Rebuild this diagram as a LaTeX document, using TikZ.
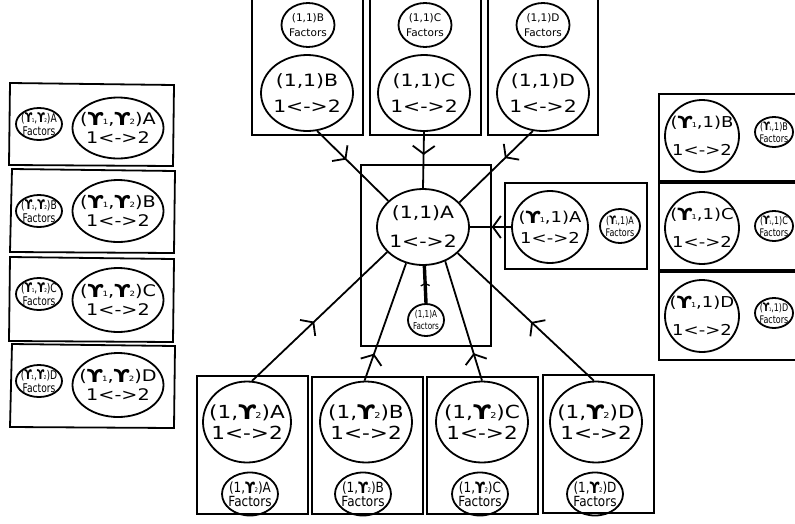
\documentclass[tikz,border=0pt]{standalone}
\usepackage{fontspec}
\usepackage{graphicx}
\usetikzlibrary{shapes.geometric,arrows.meta,decorations.markings}
\newfontfamily\dvW{DejaVu Sans}[FakeStretch=1.2]
\newfontfamily\dvN{DejaVu Sans}
\newfontfamily\dvC{DejaVu Sans}[FakeStretch=0.76]
\newfontfamily\dvM{DejaVu Sans}[FakeStretch=0.86]
\newcommand\gm[1]{\raisebox{-0.05em}{\scalebox{1.12}{\bfseries ϒ}}\kern-0.05em\scalebox{0.45}{#1}}
\begin{document}
\begin{tikzpicture}[x=1pt,y=-1pt,
  ell/.style={ellipse,draw,line width=1.8pt,inner sep=-12pt,align=center},
  frame/.style={draw,line width=1.8pt},
  conn/.style={line width=1.8pt,postaction={decorate},
    decoration={markings,mark=at position #1 with {\arrow{Straight Barb[length=8pt,width=22pt,line width=1.8pt]}}}},
  fconn/.style={line width=3.4pt,postaction={decorate},
    decoration={markings,mark=at position #1 with {\arrow{Straight Barb[length=2pt,width=9pt,line width=1.3pt]}}}},
  big/.style 2 args={font={\dvW\fontsize{#1}{#2}\selectfont}},
  sml/.style 2 args={font={\dvC\fontsize{#1}{#2}\selectfont}},
]
\useasboundingbox (0,0) rectangle (795,523);

% ---------- frames ----------
\draw[frame] (252,-3) rectangle (363,135);
\draw[frame] (370,-3) rectangle (481,135);
\draw[frame] (488,-3) rectangle (598,135);
\draw[frame] (361,165) rectangle (491,346);
\draw[frame] (505,183) rectangle (647,269);
\draw[frame] (659,94) rectangle (798,181);
\draw[frame] (659,183) rectangle (798,270);
\draw[frame] (659,272) rectangle (798,360);
\draw[frame] (10,83) -- (174,85) -- (173,166) -- (9,165) -- cycle;
\draw[frame] (12,169) -- (175,171) -- (174,253) -- (10,252) -- cycle;
\draw[frame] (10,257) -- (174,259) -- (173,342) -- (9,341) -- cycle;
\draw[frame] (12,344) -- (175,346) -- (174,428) -- (10,427) -- cycle;
\draw[frame] (197,376) rectangle (308,514);
\draw[frame] (312,377) rectangle (423,514);
\draw[frame] (427,377) rectangle (538,514);
\draw[frame] (543,375) rectangle (654,513);

% ---------- top ----------
\node[ell,minimum width=53pt,minimum height=44pt,font={\dvN\fontsize{10.5}{15}\selectfont}] (tBf) at (308,25) {(1,1)B\\Factors};
\node[ell,minimum width=53pt,minimum height=44pt,font={\dvN\fontsize{10.5}{15}\selectfont}] (tCf) at (425,25) {(1,1)C\\Factors};
\node[ell,minimum width=53pt,minimum height=44pt,font={\dvN\fontsize{10.5}{15}\selectfont}] (tDf) at (543,25) {(1,1)D\\Factors};
\node[ell,minimum width=92pt,minimum height=76pt,big={17}{26}] (tB) at (307,93) {(1,1)B\\1<->2};
\node[ell,minimum width=92pt,minimum height=76pt,big={17}{26}] (tC) at (424,93) {(1,1)C\\1<->2};
\node[ell,minimum width=92pt,minimum height=76pt,big={17}{26}] (tD) at (543,93) {(1,1)D\\1<->2};

% ---------- centre ----------
\node[ell,minimum width=92pt,minimum height=76pt,big={17}{29}] (c) at (423,227) {(1,1)A\\1<->2};
\node[ell,minimum width=36pt,minimum height=32pt,sml={9.5}{12}] (cf) at (426,320) {(1,1)A\\Factors};
\node[ell,minimum width=76pt,minimum height=72pt,big={15}{21}] (rA) at (550,227) {(\gm{1},1)A\\1<->2};
\node[ell,minimum width=40pt,minimum height=34pt,sml={10.5}{12}] (rAf) at (620,226) {(\gm{1},1)A\\Factors};

% ---------- right ----------
\node[ell,minimum width=74pt,minimum height=72pt,big={15}{28}] (rB) at (702,136) {(\gm{1},1)B\\1<->2};
\node[ell,minimum width=74pt,minimum height=72pt,big={15}{28}] (rC) at (702,228) {(\gm{1},1)C\\1<->2};
\node[ell,minimum width=74pt,minimum height=72pt,big={15}{28}] (rD) at (702,316) {(\gm{1},1)D\\1<->2};
\node[ell,minimum width=38pt,minimum height=30pt,sml={10.5}{12}] (rBf) at (774,132) {(\gm{1},1)B\\Factors};
\node[ell,minimum width=38pt,minimum height=30pt,sml={10.5}{12}] (rCf) at (774,226) {(\gm{1},1)C\\Factors};
\node[ell,minimum width=38pt,minimum height=30pt,sml={10.5}{12}] (rDf) at (774,313) {(\gm{1},1)D\\Factors};

% ---------- left ----------
\node[ell,minimum width=91pt,minimum height=61pt,big={16}{19}] (lA) at (118,128) {(\gm{1},\gm{2})A\\1<->2};
\node[ell,minimum width=91pt,minimum height=62pt,big={16}{19}] (lB) at (118,211) {(\gm{1},\gm{2})B\\1<->2};
\node[ell,minimum width=91pt,minimum height=64pt,big={16}{19}] (lC) at (118,300) {(\gm{1},\gm{2})C\\1<->2};
\node[ell,minimum width=91pt,minimum height=64pt,big={16}{19}] (lD) at (118,385) {(\gm{1},\gm{2})D\\1<->2};
\node[ell,minimum width=46pt,minimum height=32pt,sml={12}{13}] (lAf) at (39,124) {(\gm{1},\gm{2})A\\Factors};
\node[ell,minimum width=46pt,minimum height=32pt,sml={12}{13}] (lBf) at (39,211) {(\gm{1},\gm{2})B\\Factors};
\node[ell,minimum width=46pt,minimum height=32pt,sml={12}{13}] (lCf) at (39,294) {(\gm{1},\gm{2})C\\Factors};
\node[ell,minimum width=46pt,minimum height=32pt,sml={12}{13}] (lDf) at (39,381) {(\gm{1},\gm{2})D\\Factors};

% ---------- bottom ----------
\node[ell,minimum width=88pt,minimum height=81pt,big={18}{21}] (bA) at (247,422) {(1,\gm{2})A\\1<->2};
\node[ell,minimum width=92pt,minimum height=81pt,big={18}{21}] (bB) at (366,422) {(1,\gm{2})B\\1<->2};
\node[ell,minimum width=92pt,minimum height=81pt,big={18}{21}] (bC) at (482,422) {(1,\gm{2})C\\1<->2};
\node[ell,minimum width=92pt,minimum height=81pt,big={18}{21}] (bD) at (596,422) {(1,\gm{2})D\\1<->2};
\node[ell,minimum width=56pt,minimum height=43pt,font={\dvM\fontsize{14}{14}\selectfont}] (bAf) at (250,494) {(1,\gm{2})A\\Factors};
\node[ell,minimum width=56pt,minimum height=43pt,font={\dvM\fontsize{14}{14}\selectfont}] (bBf) at (363,494) {(1,\gm{2})B\\Factors};
\node[ell,minimum width=56pt,minimum height=43pt,font={\dvM\fontsize{14}{14}\selectfont}] (bCf) at (480,494) {(1,\gm{2})C\\Factors};
\node[ell,minimum width=56pt,minimum height=43pt,font={\dvM\fontsize{14}{14}\selectfont}] (bDf) at (595,494) {(1,\gm{2})D\\Factors};

% ---------- connectors ----------
\draw[conn=0.41] (tB.-75) -- (c.143);
\draw[conn=0.41] (tC.south) -- (c.north);
\draw[conn=0.38] (tD.-105) -- (c.34);
\draw[conn=0.47] (rA.west) -- (c.east);
\draw[conn=0.46] (bA.83) -- (c.215);
\draw[conn=0.23] (bB.92) -- (c.245);
\draw[conn=0.23] (bC.90) -- (c.303);
\draw[conn=0.46] (bD.93) -- (c.323);
\draw[fconn=0.54] (cf.north) -- (c.-88);
\end{tikzpicture}
\end{document}
